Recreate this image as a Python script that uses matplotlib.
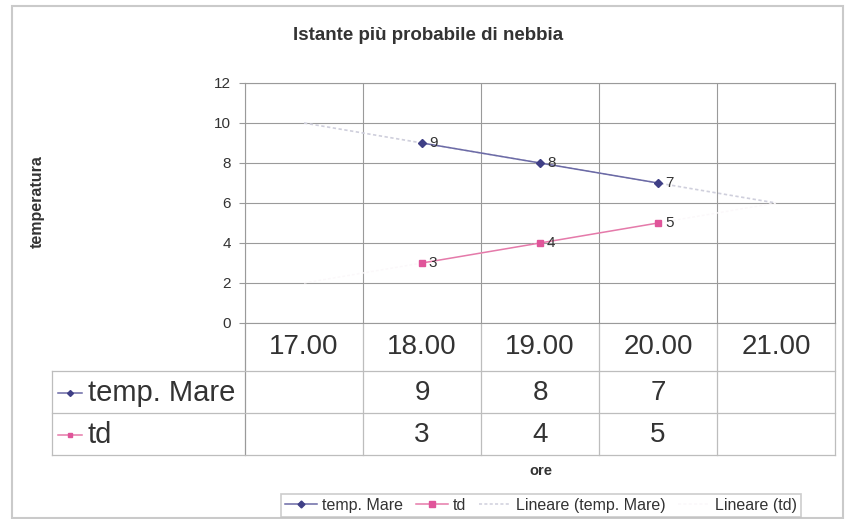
import numpy as np
import matplotlib
matplotlib.use("Agg")
import matplotlib.pyplot as plt
from matplotlib import transforms
from matplotlib.lines import Line2D
from matplotlib.patches import Rectangle

plt.rcParams['font.family'] = ['Liberation Sans', 'DejaVu Sans']

# ---- data ----
categories = ["17.00", "18.00", "19.00", "20.00", "21.00"]
temp_mare = [None, 9, 8, 7, None]
td = [None, 3, 4, 5, None]
series_names = ["temp. Mare", "td"]
title = "Istante più probabile di nebbia"
y_title = "temperatura"
x_title = "ore"
y_ticks = [0, 2, 4, 6, 8, 10, 12]

# ---- styles ----
W, H = 847, 519
c_mare_line = "#6b6aa6"
c_mare_mark = "#3f3f86"
c_td_line = "#e57aaa"
c_td_mark = "#e0559a"
c_trend_mare = "#cfcfdc"
c_trend_td = "#fbf8fa"
c_grid = "#9a9a9a"
c_table = "#bdbdbd"
c_text = "#333333"

fig = plt.figure(figsize=(W / 100, H / 100), dpi=100)
fig.patch.set_facecolor("white")

# overlay in pixel coords
ov = fig.add_axes([0, 0, 1, 1], zorder=0)
ov.set_xlim(0, W)
ov.set_ylim(H, 0)
ov.axis("off")

# chart area border
ov.add_patch(Rectangle((12, 6), 831, 512, fill=False, edgecolor="#cacaca", lw=1.5))

# plot area
pl, pr, pt, pb = 245, 835, 83, 323
ax = fig.add_axes([pl / W, 1 - pb / H, (pr - pl) / W, (pb - pt) / H], zorder=2)
ax.patch.set_alpha(0)
n = len(categories)
x = np.arange(n)
ax.set_xlim(-0.5, n - 0.5)
ax.set_ylim(0, 12)
ax.set_yticks(y_ticks)
ax.set_yticklabels([str(v) for v in y_ticks], fontsize=11, color=c_text)
ax.tick_params(axis="y", length=4, width=0.8, color=c_grid, pad=6)
ax.set_xticks([])
for b in np.arange(-0.5, n, 1.0):
    ax.axvline(b, color=c_grid, lw=0.8, zorder=1)
for v in y_ticks:
    ax.axhline(v, color=c_grid, lw=0.8, zorder=1)
for s in ax.spines.values():
    s.set_color(c_grid)
    s.set_linewidth(0.8)

# trendlines (linear fit of each series)
def fit(vals):
    xi = np.array([i for i, v in enumerate(vals) if v is not None], float)
    yi = np.array([v for v in vals if v is not None], float)
    k, q = np.polyfit(xi, yi, 1)
    return k * x + q

ax.plot(x, fit(temp_mare), color=c_trend_mare, lw=1.2, ls=(0, (2, 1.5)), zorder=2)
ax.plot(x, fit(td), color=c_trend_td, lw=1.0, ls=(0, (2, 1.5)), zorder=2)

def series_xy(vals):
    xi = [i for i, v in enumerate(vals) if v is not None]
    yi = [v for v in vals if v is not None]
    return xi, yi

mx, my = series_xy(temp_mare)
tx, ty = series_xy(td)
ax.plot(mx, my, color=c_mare_line, lw=1.1, marker="D", markersize=4,
        markerfacecolor=c_mare_mark, markeredgecolor=c_mare_mark, zorder=3)
ax.plot(tx, ty, color=c_td_line, lw=1.1, marker="s", markersize=5,
        markerfacecolor=c_td_mark, markeredgecolor=c_td_mark, zorder=3)
for xi, yi in zip(mx, my):
    ax.annotate(str(yi), (xi, yi), xytext=(5, 0), textcoords="offset points",
                ha="left", va="center", fontsize=11, color=c_text, zorder=4)
for xi, yi in zip(tx, ty):
    ax.annotate(str(yi), (xi, yi), xytext=(5, 0), textcoords="offset points",
                ha="left", va="center", fontsize=11, color=c_text, zorder=4)

# ---- data table ----
bt = transforms.blended_transform_factory(ax.transData, ov.transData)
t_left, r0, r1, r2 = 52, 371, 413, 455
row_c = [(r0 + r1) / 2 + 1, (r1 + r2) / 2 + 1]
for b in np.arange(-0.5, n, 1.0):
    ov.plot([b, b], [pb, r2], color=c_grid if b == -0.5 else c_table, lw=0.9, transform=bt)
for yy in (r0, r1, r2):
    ov.plot([t_left, pr], [yy, yy], color=c_table, lw=0.9)
ov.plot([t_left, t_left], [r0, r2], color=c_table, lw=0.9)
for i, c in enumerate(categories):
    ov.text(i, (pb + r0) / 2, c, transform=bt, ha="center", va="center",
            fontsize=20, color=c_text)
rows = [temp_mare, td]
keys = [(c_mare_line, c_mare_mark, "D", 3), (c_td_line, c_td_mark, "s", 3.5)]
for r, (vals, name, key) in enumerate(zip(rows, series_names, keys)):
    yc = row_c[r]
    ov.plot([58, 82], [yc, yc], color=key[0], lw=1.1)
    ov.plot([70], [yc], marker=key[2], markersize=key[3], color=key[1])
    ov.text(88, yc, name, ha="left", va="center", fontsize=21, color=c_text)
    for i, v in enumerate(vals):
        if v is not None:
            ov.text(i, yc, str(v), transform=bt, ha="center", va="center",
                    fontsize=20, color=c_text)

# titles
fig.text(428 / W, 1 - 36 / H, title, ha="center", va="center", fontsize=13.5,
         fontweight="bold", color=c_text)
fig.text(37 / W, 1 - 202 / H, y_title, ha="center", va="center", rotation=90,
         fontsize=11.5, fontweight="bold", color=c_text)
fig.text(541 / W, 1 - 471 / H, x_title, ha="center", va="center", fontsize=10.5,
         fontweight="bold", color=c_text)

# legend
handles = [
    Line2D([], [], color=c_mare_line, lw=1.1, marker="D", markersize=3.5,
           markerfacecolor=c_mare_mark, markeredgecolor=c_mare_mark),
    Line2D([], [], color=c_td_line, lw=1.1, marker="s", markersize=4,
           markerfacecolor=c_td_mark, markeredgecolor=c_td_mark),
    Line2D([], [], color=c_trend_mare, lw=1.1, ls=(0, (2, 1.5))),
    Line2D([], [], color=c_trend_td, lw=1.1, ls=(0, (2, 1.5))),
]
labels = series_names + ["Lineare (%s)" % s for s in series_names]
leg = fig.legend(handles, labels, loc="center", bbox_to_anchor=(541 / W, 1 - 505.5 / H),
                 ncol=4, fontsize=11.5, frameon=True, fancybox=False, handlelength=2.0,
                 handletextpad=0.3, columnspacing=0.8, borderpad=0.25, labelcolor=c_text)
leg.get_frame().set_edgecolor("#c0c0c0")
leg.get_frame().set_linewidth(1.2)

fig.savefig("out.png", dpi=100, facecolor="white")
